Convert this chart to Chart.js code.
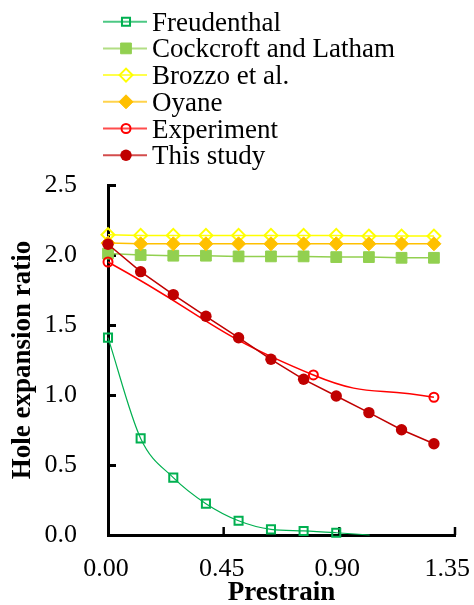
<!DOCTYPE html>
<html><head><meta charset="utf-8">
<script src="https://cdn.jsdelivr.net/npm/chart.js@4"></script>
<style>html,body{margin:0;padding:0;background:#fff}#wrap{width:474px;height:605px;position:relative}</style>
</head><body><div id="wrap"><canvas id="c" width="474" height="605"></canvas></div>
<script>
// ---- data ----
const seriesNames = ["Freudenthal", "Cockcroft and Latham", "Brozzo et al.", "Oyane", "Experiment", "This study"];
const prestrainModel = [0, 0.127, 0.254, 0.381, 0.508, 0.634, 0.761, 0.888, 1.015, 1.142, 1.268];
const freudenthalX = [0, 0.127, 0.254, 0.381, 0.508, 0.634, 0.761, 0.888, 1.018];
const freudenthal = [1.41, 0.69, 0.41, 0.224, 0.102, 0.04, 0.029, 0.016, 0.0];
const cockcroft = [2.01, 2.0, 1.995, 1.995, 1.99, 1.99, 1.99, 1.985, 1.985, 1.98, 1.98];
const brozzo = [2.145, 2.14, 2.14, 2.14, 2.14, 2.14, 2.14, 2.14, 2.135, 2.135, 2.135];
const oyane = [2.085, 2.08, 2.08, 2.08, 2.08, 2.08, 2.08, 2.08, 2.08, 2.08, 2.08];
const experimentX = [0, 0.799, 1.268];
const experiment = [1.95, 1.143, 0.984];
const thisStudy = [2.077, 1.881, 1.717, 1.562, 1.409, 1.255, 1.112, 0.993, 0.874, 0.752, 0.652];
const xTickValues = [0, 0.45, 0.90, 1.35];
const xTickLabels = ["0.00", "0.45", "0.90", "1.35"];
const yTickValues = [0, 0.5, 1.0, 1.5, 2.0, 2.5];
const xTitle = "Prestrain";
const yTitle = "Hole expansion ratio";

const pts = (xs, ys) => ys.map((y, i) => ({x: xs[i], y: y}));
const FONT = "'Liberation Serif', 'Times New Roman', serif";

const datasets = [
  {label: seriesNames[0], data: pts(freudenthalX, freudenthal), borderColor: '#00b050', backgroundColor: 'rgba(0,0,0,0)',
   borderWidth: 1.2, pointStyle: 'rect', pointRadius: freudenthal.map((v, i) => i === freudenthal.length - 1 ? 0 : 5.7),
   pointBorderWidth: 2, pointBorderColor: '#00b050', pointBackgroundColor: 'rgba(0,0,0,0)', cubicInterpolationMode: 'monotone', order: 5},
  {label: seriesNames[1], data: pts(prestrainModel, cockcroft), borderColor: '#92d050', backgroundColor: '#92d050',
   borderWidth: 1.5, pointStyle: 'rect', pointRadius: 7.6, pointBorderWidth: 1, pointBorderColor: '#92d050', pointBackgroundColor: '#92d050', tension: 0, order: 4},
  {label: seriesNames[2], data: pts(prestrainModel, brozzo), borderColor: '#ffff00', backgroundColor: 'rgba(0,0,0,0)',
   borderWidth: 1.5, pointStyle: 'rectRot', pointRadius: 6.5, pointBorderWidth: 2, pointBorderColor: '#ffff00', pointBackgroundColor: 'rgba(0,0,0,0)', tension: 0, order: 3},
  {label: seriesNames[3], data: pts(prestrainModel, oyane), borderColor: '#ffc000', backgroundColor: '#ffc000',
   borderWidth: 1.5, pointStyle: 'rectRot', pointRadius: 7, pointBorderWidth: 1, pointBorderColor: '#ffc000', pointBackgroundColor: '#ffc000', tension: 0, order: 2},
  {label: seriesNames[4], data: pts(experimentX, experiment), borderColor: '#ff0000', backgroundColor: 'rgba(0,0,0,0)',
   borderWidth: 1.5, pointStyle: 'circle', pointRadius: 4.5, pointBorderWidth: 2, pointBorderColor: '#ff0000', pointBackgroundColor: 'rgba(0,0,0,0)', tension: 0.5, order: 1},
  {label: seriesNames[5], data: pts(prestrainModel, thisStudy), borderColor: '#c00000', backgroundColor: '#c00000',
   borderWidth: 1.5, pointStyle: 'circle', pointRadius: 5.7, pointBorderWidth: 0, pointBorderColor: '#c00000', pointBackgroundColor: '#c00000', tension: 0, order: 0}
];
datasets.forEach(d => { d.clip = false; d.showLine = true; d.fill = false; });

const axisDeco = {
  id: 'axisDeco',
  beforeDatasetsDraw(chart) {
    const ctx = chart.ctx, xs = chart.scales.x, ys = chart.scales.y, a = chart.chartArea;
    ctx.save();
    ctx.strokeStyle = '#000'; ctx.lineWidth = 3;
    yTickValues.forEach(v => {
      const y = Math.round(ys.getPixelForValue(v)) + 0.5;
      ctx.beginPath(); ctx.moveTo(a.left, y); ctx.lineTo(a.left + 8, y); ctx.stroke();
    });
    ctx.lineWidth = 2.5;
    xTickValues.forEach(v => {
      if (v === 0) return;
      const x = xs.getPixelForValue(v);
      ctx.beginPath(); ctx.moveTo(x, a.bottom); ctx.lineTo(x, a.bottom - 8); ctx.stroke();
    });
    ctx.fillStyle = '#000';
    ctx.font = '26px ' + FONT;
    ctx.textAlign = 'center'; ctx.textBaseline = 'middle';
    xTickValues.forEach((v, i) => {
      let x = xs.getPixelForValue(v);
      const w = ctx.measureText(xTickLabels[i]).width;
      x = Math.min(x, chart.width - 2 - w / 2);
      ctx.fillText(xTickLabels[i], x - 2, a.bottom + 34);
    });
    ctx.restore();
  },
  afterDraw(chart) {
    const ctx = chart.ctx;
    ctx.save();
    const rowY0 = 21.7, rowStep = 26.7;
    datasets.forEach((d, i) => {
      const cy = rowY0 + i * rowStep;
      ctx.strokeStyle = d.borderColor; ctx.lineWidth = 2; ctx.globalAlpha = 0.7;
      ctx.beginPath(); ctx.moveTo(103, cy); ctx.lineTo(147, cy); ctx.stroke();
      ctx.globalAlpha = 1;
      const r = Array.isArray(d.pointRadius) ? d.pointRadius[0] : d.pointRadius;
      ctx.strokeStyle = d.pointBorderColor; ctx.fillStyle = d.pointBackgroundColor; ctx.lineWidth = d.pointBorderWidth;
      Chart.helpers.drawPoint(ctx, {pointStyle: d.pointStyle, rotation: 0, radius: r, borderWidth: d.pointBorderWidth}, 126, cy);
      ctx.fillStyle = '#000';
      ctx.font = '27px ' + FONT;
      ctx.textAlign = 'left'; ctx.textBaseline = 'alphabetic';
      ctx.fillText(d.label, 152, cy + 9);
    });
    ctx.restore();
  }
};

new Chart(document.getElementById('c'), {
  type: 'line',
  data: {datasets: datasets},
  options: {
    responsive: false,
    animation: false,
    devicePixelRatio: 1,
    layout: {padding: {top: 185, left: 0, right: 19, bottom: 0}},
    plugins: {legend: {display: false}, tooltip: {enabled: false}},
    scales: {
      x: {
        type: 'linear', min: 0, max: 1.35,
        afterBuildTicks: s => { s.ticks = xTickValues.map(v => ({value: v})); },
        afterFit: s => { s.height = 70; },
        grid: {display: false, drawTicks: false},
        border: {display: true, color: '#000', width: 3},
        ticks: {display: false},
        title: {display: true, text: xTitle, color: '#000', font: {family: FONT, size: 27, weight: 'bold', lineHeight: 1}, padding: {top: 0, bottom: -2}}
      },
      y: {
        type: 'linear', min: 0, max: 2.5,
        afterBuildTicks: s => { s.ticks = yTickValues.map(v => ({value: v})); },
        afterFit: s => { s.width = 108; },
        grid: {display: false, drawTicks: false},
        border: {display: true, color: '#000', width: 3},
        ticks: {color: '#000', padding: 31, font: {family: FONT, size: 26}, callback: v => Number(v).toFixed(1)},
        title: {display: true, text: yTitle, color: '#000', font: {family: FONT, size: 27, weight: 'bold', lineHeight: 1}, padding: {top: 10, bottom: 0}}
      }
    }
  },
  plugins: [axisDeco]
});
</script>
</body></html>
